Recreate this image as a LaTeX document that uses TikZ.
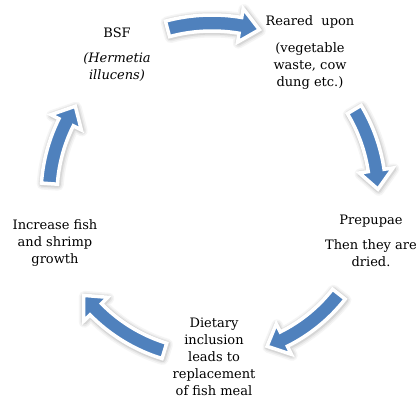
\documentclass[tikz,border=0pt]{standalone}
\usepackage{fontspec}
\setmainfont{DejaVu Serif}
\definecolor{arrowblue}{HTML}{4F81BD}
\tikzset{
  cyc/.style={fill=arrowblue, draw=white, line width=3.5pt, line join=miter,
    preaction={draw=black!4, line width=11pt, line join=round, transform canvas={shift={(0.8pt,-1pt)}}},
    preaction={draw=black!9, line width=8pt, line join=round, transform canvas={shift={(0.8pt,-1pt)}}},
    preaction={draw=black!16, line width=5.5pt, line join=round, transform canvas={shift={(0.6pt,-0.8pt)}}}},
  lbl/.style={font=\fontsize{13}{17}\selectfont, align=center, text=black, inner sep=0pt}
}
% #1 start angle, #2 end angle (clockwise, #2 < #1), #3 radius
\newcommand\cyclearrow[3]{%
  \path[cyc] (#1:#3+8) arc[start angle=#1, end angle={#2+6.5}, radius=#3+8]
    -- ({#2+6.5}:#3+17) -- (#2:#3) -- ({#2+6.5}:#3-17) -- ({#2+6.5}:#3-8)
    arc[start angle={#2+6.5}, end angle=#1, radius=#3-8] -- cycle;}
\begin{document}
\begin{tikzpicture}[x=1pt,y=1pt]
\useasboundingbox (0,0) rectangle (420,400);
\fill[white] (0,0) rectangle (420,400);
\begin{scope}[shift={(212,205)}]
  \cyclearrow{105}{74}{172}
  \cyclearrow{31}{2}{166}
  \cyclearrow{-38}{-70}{161}
  \cyclearrow{-107}{-142}{163}
  \cyclearrow{176}{147}{163}
\end{scope}
\node[lbl] (bsf) at (117,367) {BSF};
\node[lbl] (bsfsp) at (117,333) {\itshape (Hermetia\\\itshape illucens)};
\node[lbl] (reared) at (310,378) {Reared\ \ upon};
\node[lbl] (substrate) at (310,334) {(vegetable\\waste, cow\\dung etc.)};
\node[lbl] (prepupae) at (371,179) {Prepupae};
\node[lbl] (dried) at (371,147) {Then they are\\dried.};
\node[lbl] (dietary) at (214,43) {Dietary\\inclusion\\leads to\\replacement\\of fish meal};
\node[lbl] (increase) at (55,157) {Increase fish\\and shrimp\\growth};
\end{tikzpicture}
\end{document}
